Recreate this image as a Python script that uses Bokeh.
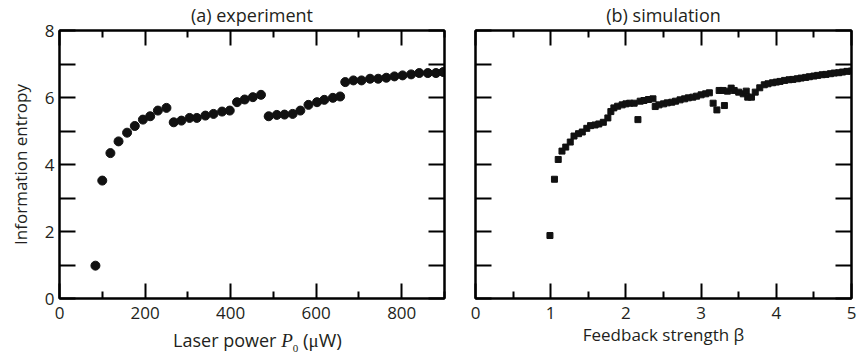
from bokeh.plotting import figure
from bokeh.layouts import row, column
from bokeh.models import FixedTicker, LinearAxis, Div, CustomLabelingPolicy
from bokeh.embed import file_html
from bokeh.resources import INLINE

# (a) experiment: laser power (uW) vs information entropy
exp_power = [84, 100, 119, 138, 158, 176, 195, 212, 230, 250,
             267, 285, 304, 321, 341, 360, 380, 398, 415, 433, 452, 471,
             489, 508, 526, 545, 563, 582, 602, 619, 639, 656,
             668, 687, 706, 726, 745, 764, 783, 802, 822, 841, 861, 880, 897]
exp_entropy = [0.98, 3.52, 4.34, 4.69, 4.95, 5.15, 5.34, 5.44, 5.61, 5.69,
               5.26, 5.31, 5.39, 5.39, 5.46, 5.51, 5.58, 5.61, 5.86, 5.94, 6.01, 6.08,
               5.44, 5.48, 5.49, 5.51, 5.61, 5.78, 5.86, 5.93, 5.99, 6.03,
               6.46, 6.51, 6.51, 6.56, 6.56, 6.59, 6.63, 6.66, 6.69, 6.73, 6.73, 6.73, 6.76]

# (b) simulation: feedback strength beta vs information entropy
sim_beta = [0.99, 1.05, 1.10, 1.15, 1.20, 1.26, 1.31, 1.37, 1.42, 1.48, 1.53, 1.59,
            1.64, 1.70, 1.76, 1.80, 1.84, 1.89, 1.95, 2.00, 2.05, 2.11, 2.16, 2.19,
            2.24, 2.30, 2.36, 2.39, 2.44, 2.50, 2.55, 2.61, 2.66, 2.72, 2.78, 2.83,
            2.89, 2.94, 3.00, 3.06, 3.11, 3.16, 3.21, 3.24, 3.29, 3.31, 3.35, 3.40,
            3.44, 3.50, 3.56, 3.60, 3.62, 3.67, 3.72, 3.78, 3.84, 3.89, 3.95, 4.00,
            4.05, 4.11, 4.17, 4.22, 4.28, 4.33, 4.39, 4.44, 4.50, 4.55, 4.61, 4.66,
            4.72, 4.77, 4.83, 4.88, 4.94, 5.00]
sim_entropy = [1.88, 3.56, 4.15, 4.40, 4.52, 4.67, 4.85, 4.92, 4.97, 5.08, 5.16, 5.18,
               5.21, 5.26, 5.39, 5.58, 5.69, 5.74, 5.78, 5.81, 5.83, 5.83, 5.34, 5.89,
               5.91, 5.94, 5.96, 5.73, 5.78, 5.81, 5.84, 5.86, 5.89, 5.93, 5.96, 5.99,
               6.01, 6.04, 6.08, 6.11, 6.14, 5.83, 5.63, 6.21, 6.21, 5.76, 6.19, 6.28,
               6.21, 6.16, 6.11, 6.19, 6.01, 6.01, 6.16, 6.29, 6.38, 6.41, 6.44, 6.46,
               6.48, 6.51, 6.53, 6.54, 6.56, 6.58, 6.60, 6.62, 6.64, 6.66, 6.68, 6.69,
               6.71, 6.73, 6.74, 6.76, 6.78, 6.79]

y_ticks = [0, 2, 4, 6, 8]
y_minor = [1, 3, 5, 7]
xa_ticks = [0, 200, 400, 600, 800]
xa_minor = [100, 300, 500, 700, 900]
xb_ticks = [0, 1, 2, 3, 4, 5]
xb_minor = [0.5, 1.5, 2.5, 3.5, 4.5]

FONT = "Open Sans"
FS = "17px"
TXT = "#231f20"

NO_LABELS = "for (const i of Array.from(indices)) indices.unset(i); return indices"


def style_axis(ax, ticks, minor, labels, major_len, minor_len):
    ax.ticker = FixedTicker(ticks=ticks, minor_ticks=minor)
    ax.axis_line_color = "black"
    ax.axis_line_width = 2
    ax.major_tick_in = major_len
    ax.major_tick_out = 0
    ax.minor_tick_in = minor_len
    ax.minor_tick_out = 0
    ax.major_tick_line_width = 2
    ax.minor_tick_line_width = 2
    ax.major_tick_line_color = "black"
    ax.minor_tick_line_color = "black"
    ax.axis_label_text_font = FONT
    ax.axis_label_text_font_size = FS
    ax.axis_label_text_font_style = "normal"
    ax.axis_label_text_color = TXT
    ax.axis_label_text_line_height = 1.0
    ax.major_label_text_line_height = 1.0
    if labels:
        ax.major_label_text_font = FONT
        ax.major_label_text_font_size = FS
        ax.major_label_text_color = TXT
        ax.major_label_standoff = 8
        ax.axis_label_standoff = 1
    else:
        ax.major_label_policy = CustomLabelingPolicy(code=NO_LABELS)
        ax.major_label_text_font_size = "1px"
        ax.axis_label_text_font_size = "1px"
        ax.major_label_standoff = 0
        ax.axis_label_standoff = 0


def make_fig(fw, xr, min_left, min_right, min_bottom, title):
    p = figure(frame_width=fw, frame_height=268, x_range=xr, y_range=(0, 8),
               output_backend="svg", toolbar_location=None,
               min_border_left=min_left, min_border_right=min_right,
               min_border_top=22, min_border_bottom=min_bottom)
    p.title.text = title
    p.title.align = "center"
    p.title.text_font = FONT
    p.title.text_font_size = "18px"
    p.title.text_font_style = "normal"
    p.title.text_color = TXT
    p.title.standoff = 0
    p.title.offset = 0
    p.xgrid.grid_line_color = None
    p.ygrid.grid_line_color = None
    p.outline_line_color = "black"
    p.outline_line_width = 2
    p.background_fill_color = "white"
    p.border_fill_color = "white"
    return p


# ---- panel (a)
p1 = make_fig(385, (0, 900), 59, 15, 32, "(a) experiment")
style_axis(p1.xaxis[0], xa_ticks, xa_minor, True, 15, 7)
style_axis(p1.yaxis[0], y_ticks, y_minor, True, 16, 16)
p1.yaxis[0].major_label_standoff = 5
p1.yaxis[0].axis_label = "Information entropy"
p1.yaxis[0].axis_label_standoff = 10
top1 = LinearAxis()
style_axis(top1, xa_ticks, xa_minor, False, 15, 7)
p1.add_layout(top1, "above")
right1 = LinearAxis()
style_axis(right1, y_ticks, y_minor, False, 16, 16)
p1.add_layout(right1, "right")
p1.scatter(exp_power, exp_entropy, marker="circle", size=9,
           fill_color="#111111", line_color="#111111")

# x-axis label of (a): italic P with subscript 0, as real HTML text
xlabel_a = Div(
    text=('<div style="width:459px;height:24px;line-height:24px;padding-left:56px;'
          'box-sizing:border-box;text-align:center;white-space:nowrap;'
          'font-family:\'Open Sans\';font-size:18px;color:#231f20;position:relative;top:-2px">'
          'Laser power <span style="font-family:\'Liberation Serif\';font-style:italic;'
          'font-size:19px">P</span><span style="font-family:\'Liberation Serif\';'
          'font-size:11px;position:relative;top:5px">0</span> '
          '<span style="font-size:19px">(</span><span style="font-family:\'Liberation Serif\';'
          'font-size:19px">μ</span><span style="font-size:19px">W)</span></div>'),
    width=459, height=24, margin=0)

# ---- panel (b)
p2 = make_fig(376, (0, 5), 16, 6, 56, "(b) simulation")
style_axis(p2.xaxis[0], xb_ticks, xb_minor, True, 15, 7)
p2.xaxis[0].axis_label = "Feedback strength β"
style_axis(p2.yaxis[0], y_ticks, y_minor, False, 16, 16)
top2 = LinearAxis()
style_axis(top2, xb_ticks, xb_minor, False, 15, 7)
p2.add_layout(top2, "above")
right2 = LinearAxis()
style_axis(right2, y_ticks, y_minor, False, 16, 16)
p2.add_layout(right2, "right")
p2.scatter(sim_beta, sim_entropy, marker="square", size=6,
           fill_color="#111111", line_color="#111111")

layout = row(column(p1, xlabel_a, spacing=0), p2, spacing=0)
open("out.html", "w").write(file_html(layout, INLINE))
